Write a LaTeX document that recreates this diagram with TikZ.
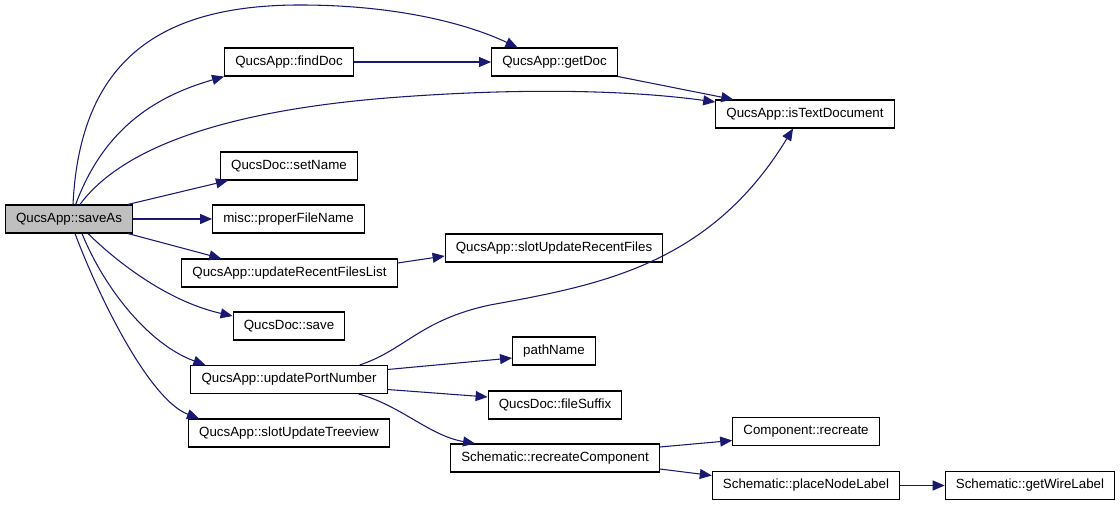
\documentclass[tikz,border=0pt]{standalone}
\usepackage{fontspec}
\setmainfont{Liberation Sans}
\usepackage{xcolor}
\usepackage{tikz}
\usetikzlibrary{arrows.meta, positioning}
\definecolor{edgeblue}{RGB}{25,25,112}
\definecolor{focusgray}{RGB}{191,191,191}

\begin{document}
\begin{tikzpicture}[
    x=0.75pt, y=-0.75pt,
    box/.style={draw, line width=0.8pt, minimum height=21pt, inner xsep=8pt, inner ysep=0pt, font=\fontsize{10}{12}\selectfont},
    arrow/.style={-{Triangle[length=9pt, width=7.5pt]}, line width=0.8pt, edgeblue}
]
\useasboundingbox (0,0) rectangle (1120,505);

% Caller
\node[box, fill=focusgray] (saveAs) at (69,219) {QucsApp::saveAs};

% Direct callees
\node[box] (findDoc) at (289,62) {QucsApp::findDoc};
\node[box] (setName) at (289,166) {QucsDoc::setName};
\node[box] (properFileName) at (288.5,219) {misc::properFileName};
\node[box] (updRecent) at (289.5,273) {QucsApp::updateRecentFilesList};
\node[box] (save) at (289,326) {QucsDoc::save};
\node[box] (updPort) at (289,379.5) {QucsApp::updatePortNumber};
\node[box] (slotTree) at (289,433) {QucsApp::slotUpdateTreeview};

% Second level
\node[box] (getDoc) at (554.5,62) {QucsApp::getDoc};
\node[box] (slotRecent) at (554,248) {QucsApp::slotUpdateRecentFiles};
\node[box] (pathName) at (554,351) {pathName};
\node[box] (fileSuffix) at (555,405) {QucsDoc::fileSuffix};
\node[box] (recreateComp) at (555,458) {Schematic::recreateComponent};

% Third level
\node[box] (isText) at (805,114) {QucsApp::isTextDocument};
\node[box] (compRecreate) at (806,431.5) {Component::recreate};
\node[box] (placeNode) at (806,485.5) {Schematic::placeNodeLabel};
\node[box] (getWire) at (1030,485.5) {Schematic::getWireLabel};

% Arrows
\draw[arrow] ([xshift=3pt]saveAs.north) .. controls (80,60) and (160,5) .. (300,5) .. controls (400,5) and (470,25) .. ([xshift=-27.75pt]getDoc.north);
\draw[arrow] ([xshift=5pt]saveAs.north) .. controls (105,125) and (160,95) .. (findDoc.south west);
\draw[arrow] ([xshift=8.25pt]saveAs.north) .. controls (120,150) and (220,110) .. (400,97) .. controls (550,86) and (650,93) .. ([yshift=9pt]isText.west);
\draw[arrow] (findDoc) -- (getDoc);
\draw[arrow] (getDoc.south east) -- ([xshift=13.5pt]isText.north west);
\draw[arrow] ([xshift=-4pt]saveAs.north east) -- ([xshift=6pt]setName.south west);
\draw[arrow] (saveAs) -- (properFileName);
\draw[arrow] ([xshift=-4pt]saveAs.south east) -- ([xshift=30pt]updRecent.north west);
\draw[arrow] ([yshift=7.5pt]updRecent.east) -- ([yshift=-6pt]slotRecent.west);
\draw[arrow] ([xshift=14.25pt]saveAs.south) .. controls (120,265) and (170,302) .. ([yshift=7.5pt]save.west);
\draw[arrow] ([xshift=9.75pt]saveAs.south) .. controls (105,290) and (150,345) .. ([xshift=11.25pt]updPort.north west);
\draw[arrow] ([xshift=4.5pt]saveAs.south) .. controls (100,300) and (150,400) .. ([xshift=8.25pt]slotTree.north west);
\draw[arrow] ([xshift=-21pt]updPort.north east) .. controls (405,350) and (420,320) .. (490,305) .. controls (600,285) and (710,265) .. ([xshift=-9pt]isText.south);
\draw[arrow] ([yshift=7.5pt]updPort.east) -- ([yshift=-5.25pt]pathName.west);
\draw[arrow] ([yshift=-7.5pt]updPort.east) -- ([yshift=6pt]fileSuffix.west);
\draw[arrow] ([xshift=-21.75pt]updPort.south east) .. controls (400,405) and (430,436) .. ([xshift=18.75pt]recreateComp.north west);
\draw[arrow] ([yshift=8.25pt]recreateComp.east) -- ([yshift=-6.75pt]compRecreate.west);
\draw[arrow] ([yshift=-8.25pt]recreateComp.east) -- ([yshift=7.5pt]placeNode.west);
\draw[arrow] (placeNode) -- (getWire);
\end{tikzpicture}
\end{document}
